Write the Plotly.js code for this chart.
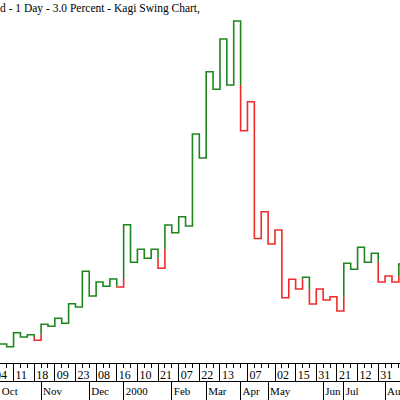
<!DOCTYPE html>
<html>
<head>
<meta charset="utf-8">
<script src="https://cdn.plot.ly/plotly-3.0.1.min.js"></script>
<style>
  html, body { margin: 0; padding: 0; width: 400px; height: 400px; overflow: hidden; background: #fff; }
  #chart { position: absolute; left: -20px; top: 0; width: 440px; height: 400px; }
</style>
</head>
<body>
<div id="chart"></div>
<script>
// Kagi reversal levels (one per vertical line, index = line number)
const kagiLevels = [1.90, 1.63, 3.03, 2.60, 2.83, 2.27, 3.87, 3.67, 4.47, 3.97,
  5.93, 5.60, 9.17, 6.70, 8.10, 7.67, 8.40, 7.60, 13.83, 10.07,
  11.37, 10.47, 11.37, 9.47, 13.80, 13.03, 14.63, 13.70, 22.90, 20.50,
  29.13, 27.37, 32.40, 27.80, 34.20, 23.23, 26.13, 12.45, 15.13, 11.90,
  13.30, 6.53, 8.37, 7.40, 8.57, 5.90, 7.40, 6.30, 6.63, 5.20,
  9.97, 9.37, 11.57, 10.07, 10.97, 8.10, 8.70, 8.10, 9.90];

// Day tick labels and the line index where each falls
const dayTickIdx = [-1, 2, 5, 8, 11, 14, 17, 20, 23, 26, 29, 32, 36, 40, 43, 46, 49, 52, 55];
const dayTicks = ['04', '11', '18', '09', '23', '08', '16', '10', '21', '07', '22', '13', '07', '02', '15', '31', '21', '12', '31'];

// Month labels and the line index where each month begins
const monthIdx = [0, 6, 13, 18, 25, 30, 35, 39, 47, 50, 56];
const months = ['Oct', 'Nov', 'Dec', '2000', 'Feb', 'Mar', 'Apr', 'May', 'Jun', 'Jul', 'Aug'];

const titleText = 'd - 1 Day - 3.0 Percent - Kagi Swing Chart,';

const YANG = '#1e861e', YIN = '#f02a2a';

// Build Kagi polylines: yang (green) / yin (red) using shoulder/waist breaks
const lines = { yang: { x: [], y: [] }, yin: { x: [], y: [] } };
let state = 'yang';
let cur = { color: state, pts: [[0, kagiLevels[0]]] };
const runs = [];
function addPt(color, x, y) {
  if (cur.color !== color) {
    const last = cur.pts[cur.pts.length - 1];
    runs.push(cur);
    cur = { color: color, pts: [last] };
  }
  cur.pts.push([x, y]);
}
addPt(state, 1, kagiLevels[0]);
for (let i = 1; i < kagiLevels.length; i++) {
  const from = kagiLevels[i - 1], to = kagiLevels[i];
  const ref = i >= 2 ? kagiLevels[i - 2] : null;
  if (to > from) {
    if (state === 'yin' && ref !== null && to > ref) {
      addPt('yin', i, ref);
      state = 'yang';
    }
  } else {
    if (state === 'yang' && ref !== null && to < ref) {
      addPt('yang', i, ref);
      state = 'yin';
    }
  }
  addPt(state, i, to);
  addPt(state, i + 1, to);
}
runs.push(cur);
runs.forEach(r => {
  const L = lines[r.color];
  if (L.x.length) { L.x.push(null); L.y.push(null); }
  r.pts.forEach(p => { L.x.push(p[0]); L.y.push(p[1]); });
});

const traces = [
  { type: 'scatter', mode: 'lines', x: lines.yang.x, y: lines.yang.y,
    line: { color: YANG, width: 1.6 }, hoverinfo: 'skip', showlegend: false },
  { type: 'scatter', mode: 'lines', x: lines.yin.x, y: lines.yin.y,
    line: { color: YIN, width: 1.6 }, hoverinfo: 'skip', showlegend: false },
  { type: 'scatter', mode: 'lines', x: monthIdx, y: monthIdx.map(() => null),
    xaxis: 'x2', yaxis: 'y', hoverinfo: 'skip', showlegend: false }
];

const xr = [-19.8 / 6.88, (440 - 19.8) / 6.88];
const serif = 'Liberation Serif, Times New Roman, serif';

const layout = {
  width: 440, height: 400,
  margin: { l: 0, r: 0, t: 0, b: 0 },
  paper_bgcolor: '#fff', plot_bgcolor: '#fff',
  showlegend: false,
  title: { text: titleText, xref: 'container', yref: 'container',
    x: 20 / 440, xanchor: 'left', y: 1 - 8 / 400, yanchor: 'middle',
    font: { family: serif, size: 11.5, color: '#000' } },
  xaxis: {
    range: xr, anchor: 'y', showgrid: false, zeroline: false,
    showline: true, linecolor: '#000', linewidth: 1,
    tickmode: 'array', tickvals: dayTickIdx, ticktext: dayTicks, tickangle: 0,
    ticks: 'outside', ticklen: 18, tickwidth: 1, tickcolor: '#000',
    ticklabelposition: 'outside right', ticklabelstandoff: 1, ticklabelshift: 1,
    tickfont: { family: serif, size: 12, color: '#000' },
    minor: { tickmode: 'linear', tick0: 0, dtick: 1, ticks: 'outside', ticklen: 4,
      tickwidth: 1, tickcolor: '#000', showgrid: false },
    fixedrange: true
  },
  xaxis2: {
    range: xr, overlaying: 'x', anchor: 'free', position: 19 / 400,
    showgrid: false, zeroline: false, showline: true, linecolor: '#000', linewidth: 1,
    tickmode: 'array', tickvals: monthIdx, ticktext: months, tickangle: 0,
    ticks: 'outside', ticklen: 19, tickwidth: 1, tickcolor: '#000',
    ticklabelposition: 'outside right', ticklabelstandoff: 0, ticklabelshift: 1,
    tickfont: { family: serif, size: 11, color: '#000' },
    fixedrange: true
  },
  yaxis: {
    domain: [37 / 400, 1], range: [0, 36.3], showgrid: false, zeroline: false,
    showline: false, showticklabels: false, ticks: '', fixedrange: true
  }
};

Plotly.newPlot('chart', traces, layout, { displayModeBar: false, staticPlot: true });
</script>
</body>
</html>
